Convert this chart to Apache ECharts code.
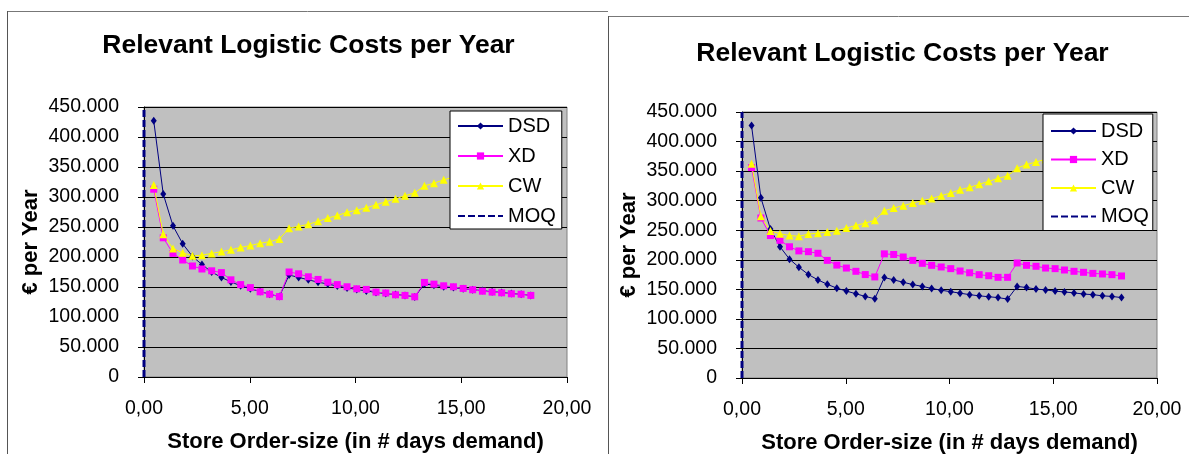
<!DOCTYPE html>
<html><head><meta charset="utf-8">
<script src="https://cdn.jsdelivr.net/npm/echarts@6/dist/echarts.min.js"></script>
<style>html,body{margin:0;padding:0;background:#fff}#c{width:1189px;height:454px}</style>
</head><body><div id="c"></div>
<script>
// ---------- data ----------
const chartTitle = 'Relevant Logistic Costs per Year';
const xAxisTitle = 'Store Order-size (in # days demand)';
const yAxisTitle = '€ per Year';
const seriesNames = ['DSD', 'XD', 'CW', 'MOQ'];
const xTickLabels = ['0,00', '5,00', '10,00', '15,00', '20,00'];
const yTickLabels = ['0', '50.000', '100.000', '150.000', '200.000', '250.000', '300.000', '350.000', '400.000', '450.000'];

const orderDays = [0.46, 0.91, 1.37, 1.83, 2.29, 2.74, 3.20, 3.66, 4.11, 4.57,
  5.03, 5.49, 5.94, 6.40, 6.86, 7.31, 7.77, 8.23, 8.69, 9.14,
  9.60, 10.06, 10.51, 10.97, 11.43, 11.89, 12.34, 12.80, 13.26, 13.71,
  14.17, 14.63, 15.09, 15.54, 16.00, 16.46, 16.91, 17.37, 17.83, 18.29];

const dsdCost = [427000, 305000, 252000, 222000, 201000, 187500, 175000, 166000, 158500, 152000,
  147000, 142500, 138000, 134000, 170000, 166000, 162000, 158000, 155000, 151500,
  148500, 146000, 143500, 141000, 139000, 137500, 136000, 133500, 155000, 153000,
  150500, 149000, 147000, 145500, 144000, 142000, 141000, 139000, 138000, 136000];

const xdCostLeft = [313000, 232000, 206000, 195000, 185000, 180000, 177000, 174000, 162000, 154000,
  149000, 142000, 138000, 134000, 175000, 172000, 167000, 162600, 158000, 154000,
  150400, 147000, 146000, 141500, 140000, 137000, 136000, 133700, 157600, 154800,
  152000, 150400, 147600, 145400, 143000, 141500, 140300, 138700, 138000, 136000];

const cwCostLeft = [320000, 238000, 214000, 207000, 202000, 203000, 206000, 209000, 212000, 216000,
  219000, 223000, 225500, 230000, 248000, 251000, 254500, 259500, 265000, 269000,
  274600, 278000, 282000, 287000, 292000, 297000, 302000, 307000, 318600, 323000,
  328600, 333000, 338000, 343000];

const xdCostRight = [356000, 270700, 241000, 233000, 222000, 215000, 213700, 211000, 199000, 191000,
  186000, 180500, 175000, 171000, 210000, 209000, 204700, 199000, 194000, 190600,
  187800, 185000, 181000, 178000, 174800, 173000, 170300, 170300, 194600, 190600,
  189000, 186000, 185000, 182700, 180500, 178800, 177000, 176000, 174800, 172600];

const cwCostRight = [362600, 273600, 248700, 244000, 241000, 239700, 243500, 245000, 247000, 249000,
  253700, 258000, 262000, 266700, 283000, 287600, 291500, 296000, 300000, 303500,
  308500, 313000, 318600, 322500, 327600, 332700, 337800, 342000, 355000, 361000,
  365400, 370000, 375000, 380000];

const moqDays = [0, 0];
const moqCost = [0, 450000];

// ---------- chart ----------
const FONT = '"Liberation Sans", Arial, sans-serif';
const pair = (xs, ys) => ys.map((y, i) => [xs[i], y]);

function xAxisCfg(gi) {
  return {
    gridIndex: gi, type: 'value', min: 0, max: 20, interval: 5,
    axisLine: { show: true, lineStyle: { color: '#000', width: 1 } },
    axisTick: { show: true, length: 6, lineStyle: { color: '#000' } },
    axisLabel: { color: '#000', fontSize: 19.5, fontFamily: FONT, margin: 22,
      formatter: v => xTickLabels[Math.round(v / 5)] },
    splitLine: { show: false },
    name: xAxisTitle, nameLocation: 'middle', nameGap: 54, nameMoveOverlap: false,
    nameTextStyle: { color: '#000', fontSize: 22, fontWeight: 'bold', fontFamily: FONT }
  };
}
function yAxisCfg(gi) {
  return {
    gridIndex: gi, type: 'value', min: 0, max: 450000, interval: 50000,
    axisLine: { show: true, lineStyle: { color: '#000', width: 1 } },
    axisTick: { show: true, length: 6, lineStyle: { color: '#000' } },
    axisLabel: { color: '#000', fontSize: 19.5, fontFamily: FONT, margin: 25,
      formatter: v => yTickLabels[Math.round(v / 50000)] },
    splitLine: { show: true, lineStyle: { color: '#000', width: 1 } },
    name: yAxisTitle, nameLocation: 'middle', nameGap: 102, nameMoveOverlap: false,
    nameTextStyle: { color: '#000', fontSize: 22, fontWeight: 'bold', fontFamily: FONT }
  };
}
function seriesSet(gi, xd, cw) {
  return [
    { name: 'DSD', type: 'line', xAxisIndex: gi, yAxisIndex: gi, data: pair(orderDays, dsdCost),
      symbol: 'diamond', symbolSize: [6, 8], showAllSymbol: true,
      itemStyle: { color: '#000080' }, lineStyle: { color: '#000080', width: 1 } },
    { name: 'XD', type: 'line', xAxisIndex: gi, yAxisIndex: gi, data: pair(orderDays, xd),
      symbol: 'rect', symbolSize: 7, showAllSymbol: true,
      itemStyle: { color: '#FF00FF' }, lineStyle: { color: '#FF00FF', width: 1 } },
    { name: 'CW', type: 'line', xAxisIndex: gi, yAxisIndex: gi, data: pair(orderDays, cw),
      symbol: 'triangle', symbolSize: 8, showAllSymbol: true,
      itemStyle: { color: '#FFFF00' }, lineStyle: { color: '#FFFF00', width: 1 } },
    { name: 'MOQ', type: 'line', xAxisIndex: gi, yAxisIndex: gi, data: pair(moqDays, moqCost),
      symbol: 'none', itemStyle: { color: '#000080' },
      lineStyle: { color: '#000080', width: 3, type: [7, 3] } }
  ];
}
function legendCfg(left, top, padding, gap) {
  return {
    data: seriesNames.map(n => n === 'MOQ' ? { name: n, itemStyle: { opacity: 0 } } : { name: n }),
    orient: 'vertical', left: left, top: top,
    backgroundColor: '#fff', borderColor: '#000', borderWidth: 1,
    padding: padding, itemGap: gap, itemWidth: 45, itemHeight: 9,
    textStyle: { color: '#000', fontSize: 20, fontFamily: FONT, lineHeight: 20 },
    selectedMode: false
  };
}

const chart = echarts.init(document.getElementById('c'), null, { renderer: 'canvas' });
chart.setOption({
  animation: false,
  backgroundColor: '#fff',
  title: [
    { text: chartTitle, left: 308.5, top: 32, textAlign: 'center', padding: 0,
      textStyle: { color: '#000', fontSize: 26.5, fontWeight: 'bold', fontFamily: FONT } },
    { text: chartTitle, left: 902.5, top: 40, textAlign: 'center', padding: 0,
      textStyle: { color: '#000', fontSize: 26.5, fontWeight: 'bold', fontFamily: FONT } }
  ],
  grid: [
    { left: 144, top: 107, width: 423, height: 270, show: true, backgroundColor: '#C0C0C0',
      borderColor: '#808080', borderWidth: 1, outerBoundsMode: 'none' },
    { left: 742, top: 112, width: 415, height: 266, show: true, backgroundColor: '#C0C0C0',
      borderColor: '#808080', borderWidth: 1, outerBoundsMode: 'none' }
  ],
  xAxis: [xAxisCfg(0), xAxisCfg(1)],
  yAxis: [yAxisCfg(0), yAxisCfg(1)],
  legend: [
    legendCfg(450, 111, [5, 6, 3, 7], 10),
    legendCfg(1043, 114, [7, 4, 4, 7], 8.5)
  ],
  graphic: [
    { type: 'line', shape: { x1: 7, y1: 11.5, x2: 608, y2: 11.5 }, style: { stroke: '#777', lineWidth: 1 } },
    { type: 'line', shape: { x1: 7.5, y1: 11, x2: 7.5, y2: 454 }, style: { stroke: '#555', lineWidth: 1 } },
    { type: 'line', shape: { x1: 608, y1: 16.5, x2: 1189, y2: 16.5 }, style: { stroke: '#777', lineWidth: 1 } },
    { type: 'line', shape: { x1: 608.5, y1: 16, x2: 608.5, y2: 454 }, style: { stroke: '#555', lineWidth: 1 } }
  ],
  series: [].concat(seriesSet(0, xdCostLeft, cwCostLeft), seriesSet(1, xdCostRight, cwCostRight))
});
</script>
</body></html>
